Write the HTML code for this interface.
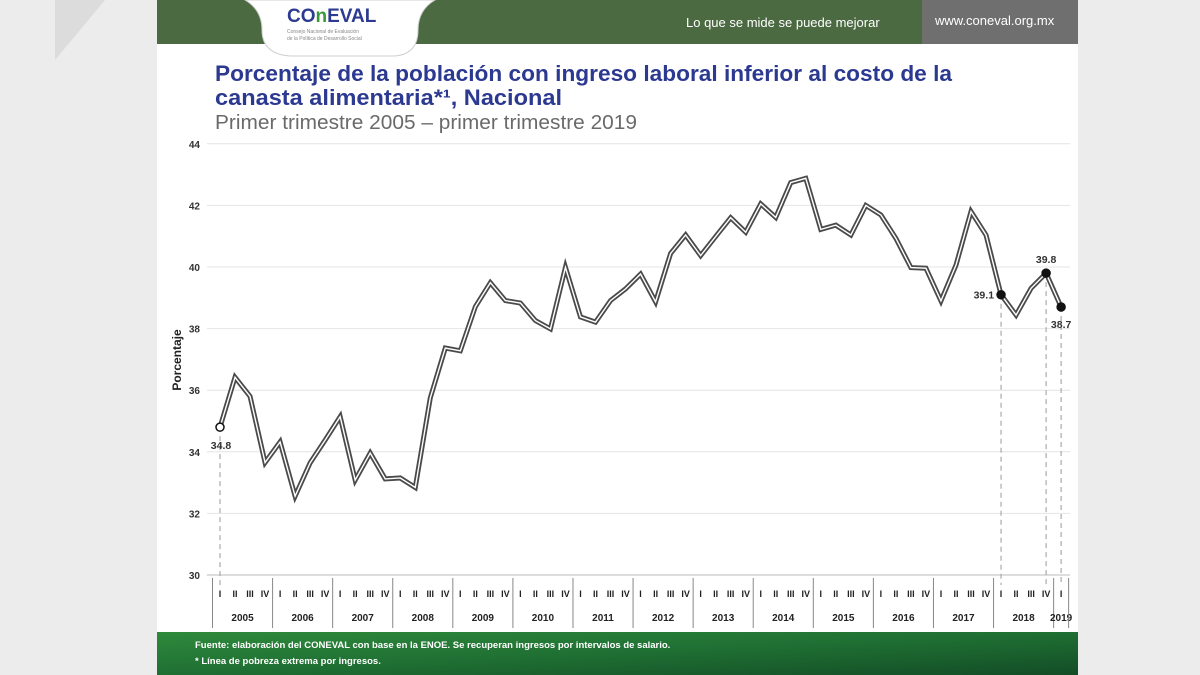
<!DOCTYPE html>
<html><head><meta charset="utf-8">
<style>
body{margin:0;width:1200px;height:675px;overflow:hidden;background:#eeeeee;font-family:"Liberation Sans",sans-serif;}
svg{display:block}
</style></head>
<body>
<svg width="1200" height="675" viewBox="0 0 1200 675">
<defs><linearGradient id="fg" x1="0" x2="1" y1="0" y2="1"><stop offset="0" stop-color="#2f8a3c"/><stop offset="0.5" stop-color="#1f6f33"/><stop offset="1" stop-color="#134d26"/></linearGradient></defs>
<rect x="0" y="0" width="1200" height="675" fill="#ececec"/>
<polygon points="55,0 105,0 55,60" fill="#dcdcdc"/>
<rect x="157" y="0" width="921" height="675" fill="#ffffff"/>
<rect x="157" y="0" width="765" height="44" fill="#4b6a42"/>
<rect x="922" y="0" width="156" height="44" fill="#6f6f6f"/>
<path d="M245,0 Q262,10 262,30 Q262,54 290,56 L395,56 Q418,54 418,30 Q418,10 435,0 Z" fill="#ffffff" stroke="#cfcfcf"/>
<text x="287" y="22" font-size="19" font-weight="bold" fill="#2c3b8f">CO<tspan fill="#3a9a3a">n</tspan>EVAL</text>
<text x="287" y="33" font-size="5" fill="#888">Consejo Nacional de Evaluación</text>
<text x="287" y="40" font-size="5" fill="#888">de la Política de Desarrollo Social</text>
<text x="686" y="27" font-size="13" fill="#ffffff">Lo que se mide se puede mejorar</text>
<text x="935" y="25" font-size="13" fill="#ffffff">www.coneval.org.mx</text>
<text x="215" y="81" font-size="22" font-weight="bold" fill="#2c3990" textLength="737" lengthAdjust="spacingAndGlyphs">Porcentaje de la población con ingreso laboral inferior al costo de la</text>
<text x="215" y="105" font-size="22" font-weight="bold" fill="#2c3990" textLength="347" lengthAdjust="spacingAndGlyphs">canasta alimentaria*¹, Nacional</text>
<text x="215" y="129" font-size="20" fill="#6a6a6a" textLength="422" lengthAdjust="spacingAndGlyphs">Primer trimestre 2005 – primer trimestre 2019</text>
<text transform="translate(181,360) rotate(-90)" text-anchor="middle" font-size="12" font-weight="bold" fill="#222">Porcentaje</text>
<g id="grid"></g><g id="xaxis"></g><g id="series"></g>
<rect x="157" y="632" width="921" height="43" fill="url(#fg)"/>
<text x="195" y="648" font-size="9.5" font-weight="bold" fill="#ffffff">Fuente: elaboración del CONEVAL con base en la ENOE. Se recuperan ingresos por intervalos de salario.</text>
<text x="195" y="664" font-size="9.5" font-weight="bold" fill="#ffffff">* Línea de pobreza extrema por ingresos.</text>
</svg>
<script>
const years=['2005','2006','2007','2008','2009','2010','2011','2012','2013','2014','2015','2016','2017','2018','2019'];
const quarters=['I','II','III','IV'];
const yTicks=[30,32,34,36,38,40,42,44];
const values=[34.8,36.42,35.8,33.65,34.32,32.56,33.64,34.38,35.14,33.08,33.96,33.12,33.15,32.84,35.75,37.37,37.28,38.71,39.49,38.91,38.83,38.26,37.99,39.99,38.38,38.21,38.91,39.29,39.77,38.87,40.44,41.04,40.37,40.99,41.6,41.13,42.05,41.61,42.74,42.88,41.22,41.36,41.04,42.0,41.69,40.93,39.98,39.96,38.9,40.06,41.8,41.04,39.1,38.44,39.31,39.8,38.7];
const labeled=[{i:0,text:'34.8',open:true},{i:52,text:'39.1'},{i:55,text:'39.8'},{i:56,text:'38.7'}];
const NS='http://www.w3.org/2000/svg';
const y=v=>575-(v-30)*30.8;
const x=i=>220+i*15.02;
function mk(t,a,p){const e=document.createElementNS(NS,t);for(const k in a)e.setAttribute(k,a[k]);p.appendChild(e);return e;}
const grid=document.getElementById('grid');
yTicks.forEach(t=>{
  const l=mk('line',{x1:207,x2:1070,y1:y(t),y2:y(t),stroke:t===30?'#bbb':'#e4e4e4','stroke-width':1},grid);
  
  
  const tx=mk('text',{x:200,y:y(t)+4,'text-anchor':'end','font-size':10,'font-weight':'bold',fill:'#333'},grid);
  tx.textContent=t;
  
  
});
const xa=document.getElementById('xaxis');
let idx=0;
years.forEach((yr,k)=>{
  const nq=(k===years.length-1)?1:4;
  const x0=x(idx)-7.5, x1=x(idx+nq-1)+7.5;
  mk('line',{x1:x0,x2:x0,y1:578,y2:628,stroke:'#888','stroke-width':1},xa);
  for(let q=0;q<nq;q++){
    const t=mk('text',{x:x(idx+q),y:597,'text-anchor':'middle','font-size':9,'font-weight':'bold',fill:'#222'},xa);
    t.textContent=quarters[q];
    
    
  }
  const yt=mk('text',{x:(x0+x1)/2,y:621,'text-anchor':'middle','font-size':10,'font-weight':'bold',fill:'#222'},xa);
  yt.textContent=yr;
  
  
  idx+=nq;
  if(k===years.length-1) mk('line',{x1:x1,x2:x1,y1:578,y2:628,stroke:'#888','stroke-width':1},xa);
});
const s=document.getElementById('series');
labeled.forEach(p=>{
  const d=mk('line',{x1:x(p.i),x2:x(p.i),y1:y(values[p.i]),y2:585,stroke:'#aaa','stroke-width':1.2,'stroke-dasharray':'5,4'},s);
  
  
});
const pts=values.map((v,i)=>x(i)+','+y(v)).join(' ');
const outer=mk('polyline',{points:pts,fill:'none',stroke:'#4a4a4a','stroke-width':5,'stroke-linejoin':'miter'},s);


mk('polyline',{points:pts,fill:'none',stroke:'#ffffff','stroke-width':1.4},s);
labeled.forEach(p=>{
  const c=mk('circle',{cx:x(p.i),cy:y(values[p.i]),r:4,fill:p.open?'#fff':'#111',stroke:'#111','stroke-width':1.5},s);
  
  
  let tx=x(p.i),ty=y(values[p.i]),anchor='middle';
  if(p.i===0){ty+=22;tx+=1;}
  else if(p.i===52){tx-=7;ty+=4;anchor='end';}
  else if(p.i===55){ty-=10;}
  else {ty+=21;}
  const t=mk('text',{x:tx,y:ty,'text-anchor':anchor,'font-size':10.5,'font-weight':'bold',fill:'#333'},s);
  t.textContent=p.text;
  
  
});
</script>
</body></html>
